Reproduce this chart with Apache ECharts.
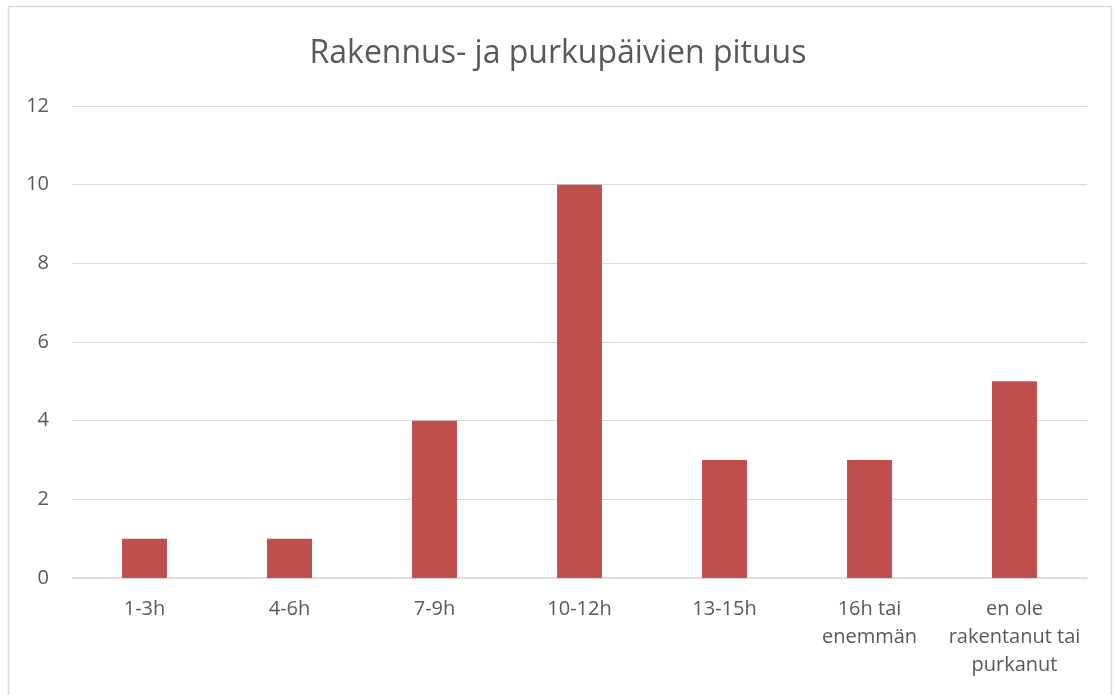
<!DOCTYPE html>
<html>
<head>
<meta charset="utf-8">
<script src="https://cdn.jsdelivr.net/npm/echarts@6/dist/echarts.min.js"></script>
<style>
  html, body { margin: 0; padding: 0; background: #fff; }
  #main { width: 1116px; height: 695px; }
</style>
</head>
<body>
<div id="main"></div>
<script>
// data
var categories = ['1-3h', '4-6h', '7-9h', '10-12h', '13-15h', '16h tai\nenemmän', 'en ole\nrakentanut tai\npurkanut']
var values = [1, 1, 4, 10, 3, 3, 5]
var yTicks = [0, 2, 4, 6, 8, 10, 12]

var font = "'Open Sans', 'Noto Sans', sans-serif"
var textColor = '#595959'

var chart = echarts.init(document.getElementById('main'))

chart.setOption({
  animation: false,
  title: {
    text: 'Rakennus- ja purkupäivien pituus',
    left: 'center',
    top: 33,
    textStyle: { fontFamily: font, fontSize: 32, fontWeight: 'normal', color: textColor }
  },
  // thin frame round the chart area
  graphic: [{
    type: 'rect',
    shape: { x: 8.5, y: 6.5, width: 1103, height: 700 },
    style: { fill: 'none', stroke: '#d9d9d9', lineWidth: 1.5 },
    silent: true
  }],
  grid: { left: 72, right: 29, top: 106, bottom: 117 },
  xAxis: {
    type: 'category',
    data: categories,
    axisTick: { show: false },
    axisLine: { lineStyle: { color: '#d9d9d9', width: 1.5 } },
    axisLabel: {
      interval: 0,
      margin: 17,
      fontFamily: font,
      fontSize: 20,
      lineHeight: 28,
      color: textColor
    }
  },
  yAxis: {
    type: 'value',
    min: yTicks[0],
    max: yTicks[yTicks.length - 1],
    interval: 2,
    axisLine: { show: false },
    axisTick: { show: false },
    splitLine: { lineStyle: { color: '#d9d9d9', width: 1.2 } },
    axisLabel: { margin: 23, fontFamily: font, fontSize: 20, color: textColor }
  },
  series: [{
    type: 'bar',
    data: values,
    barWidth: '31%',
    itemStyle: { color: '#c0504d' }
  }]
})
</script>
</body>
</html>
